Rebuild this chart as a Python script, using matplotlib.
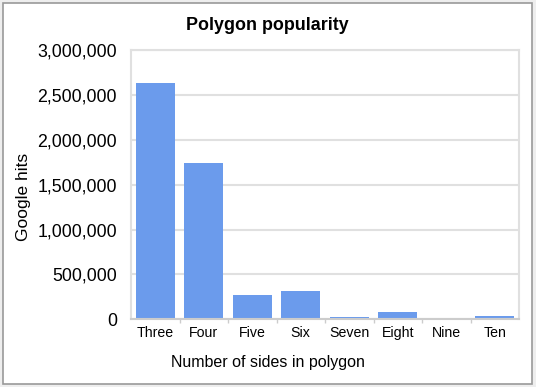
import matplotlib.pyplot as plt
from matplotlib.patches import Rectangle
from matplotlib.ticker import FuncFormatter

plt.rcParams['font.family'] = ['Liberation Sans', 'DejaVu Sans']

sides = ['Three', 'Four', 'Five', 'Six', 'Seven', 'Eight', 'Nine', 'Ten']
hits = [2630000, 1745000, 275000, 318000, 29000, 85000, 7000, 40000]

W, H = 536, 387
fig = plt.figure(figsize=(W / 100, H / 100), dpi=100)
fig.patch.set_facecolor('#eeeeee')
# white card with grey border
fig.patches.append(Rectangle((3 / W, 3 / H), 529 / W, 381 / H,
                             transform=fig.transFigure, facecolor='white',
                             edgecolor='#999999', linewidth=1.2, zorder=-5))

ax = fig.add_axes([131 / W, 1 - 319.3 / H, 388 / W, 269.3 / H])
x = range(len(sides))
ax.bar(x, hits, width=0.8, color='#6b9bec', zorder=2)

ax.set_xlim(-0.5, len(sides) - 0.5)
ax.set_ylim(0, 3000000)
ax.set_yticks(range(0, 3000001, 500000))
ax.yaxis.set_major_formatter(FuncFormatter(lambda v, p: f'{int(v):,}'))
ax.set_xticks(list(x))
ax.set_xticklabels(sides, fontsize=10.2)
ax.set_xticks([i + 0.5 for i in range(len(sides) - 1)], minor=True)
ax.tick_params(axis='x', which='major', length=0, pad=5)
ax.tick_params(axis='x', which='minor', length=3, color='#cccccc', width=1)
ax.tick_params(axis='y', length=0, pad=10, labelsize=12.8)

ax.grid(axis='y', color='#e0e0e0', linewidth=1.5, zorder=0)
for s in ax.spines.values():
    s.set_color('#e0e0e0')
    s.set_linewidth(1.5)
ax.spines['bottom'].set_color('#cccccc')

fig.text(267.5 / W, 1 - 25 / H, 'Polygon popularity', fontsize=12.9,
         fontweight='bold', ha='center', va='center')
fig.text(267.5 / W, 1 - 363 / H, 'Number of sides in polygon', fontsize=11.5,
         ha='center', va='center')
fig.text(24 / W, 1 - 197 / H, 'Google hits', fontsize=12.5,
         rotation=90, ha='center', va='center')

fig.savefig('out.png', dpi=100, facecolor=fig.get_facecolor())
